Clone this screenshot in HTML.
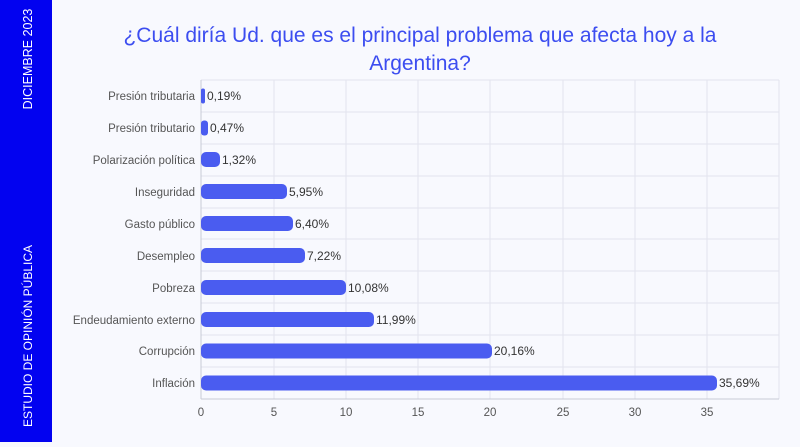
<!DOCTYPE html><html><head><meta charset="utf-8"><style>
body{margin:0;width:800px;height:442px;background:#f8f9fe;overflow:hidden;font-family:"Liberation Sans",sans-serif}
</style></head><body>
<svg width="800" height="442" xmlns="http://www.w3.org/2000/svg" font-family="Liberation Sans, sans-serif">
<rect width="800" height="442" fill="#f8f9fe"/>
<rect x="0" y="0" width="52" height="442" fill="#0202f0"/>
<text transform="translate(32,336) rotate(-90)" fill="#fff" font-size="12" text-anchor="middle">ESTUDIO DE OPINIÓN PÚBLICA</text>
<text transform="translate(32,59) rotate(-90)" fill="#fff" font-size="12.5" text-anchor="middle">DICIEMBRE 2023</text>
<text x="420" y="42" fill="#3c4df0" font-size="21" text-anchor="middle">¿Cuál diría Ud. que es el principal problema que afecta hoy a la</text>
<text x="420" y="70" fill="#3c4df0" font-size="21" text-anchor="middle">Argentina?</text>
<g stroke="#e2e4ee" stroke-width="1">
<line x1="274" y1="80" x2="274" y2="399"/><line x1="346" y1="80" x2="346" y2="399"/><line x1="418" y1="80" x2="418" y2="399"/><line x1="490" y1="80" x2="490" y2="399"/><line x1="563" y1="80" x2="563" y2="399"/><line x1="635" y1="80" x2="635" y2="399"/><line x1="707" y1="80" x2="707" y2="399"/><line x1="779" y1="80" x2="779" y2="399"/>
<line x1="201" y1="80" x2="779" y2="80"/><line x1="201" y1="112" x2="779" y2="112"/><line x1="201" y1="144" x2="779" y2="144"/><line x1="201" y1="176" x2="779" y2="176"/><line x1="201" y1="208" x2="779" y2="208"/><line x1="201" y1="239" x2="779" y2="239"/><line x1="201" y1="271" x2="779" y2="271"/><line x1="201" y1="303" x2="779" y2="303"/><line x1="201" y1="335" x2="779" y2="335"/><line x1="201" y1="367" x2="779" y2="367"/>
</g>
<line x1="201" y1="80" x2="201" y2="399" stroke="#c8cad6"/>
<line x1="201" y1="399" x2="779" y2="399" stroke="#c8cad6"/>
<g fill="#4a5cf0">
<rect x="201" y="88.5" width="4" height="15" rx="2"/>
<rect x="201" y="120.5" width="7" height="15" rx="3"/>
<rect x="201" y="152" width="19" height="15" rx="5"/>
<rect x="201" y="184" width="86" height="15" rx="5"/>
<rect x="201" y="216" width="92" height="15" rx="5"/>
<rect x="201" y="248" width="104" height="15" rx="5"/>
<rect x="201" y="280" width="145" height="15" rx="5"/>
<rect x="201" y="312" width="173" height="15" rx="5"/>
<rect x="201" y="343.5" width="291" height="15" rx="5"/>
<rect x="201" y="375.5" width="516" height="15" rx="5"/>
</g>
<g font-size="12" fill="#333" >
<text x="207" y="100">0,19%</text><text x="210" y="132">0,47%</text><text x="222" y="164">1,32%</text><text x="289" y="196">5,95%</text><text x="295" y="228">6,40%</text><text x="307" y="260">7,22%</text><text x="348" y="292">10,08%</text><text x="376" y="324">11,99%</text><text x="494" y="355">20,16%</text><text x="719" y="387">35,69%</text>
</g>
<g font-size="11.5" fill="#555" text-anchor="end">
<text x="195" y="100">Presión tributaria</text><text x="195" y="132">Presión tributario</text><text x="195" y="164">Polarización política</text><text x="195" y="196">Inseguridad</text><text x="195" y="228">Gasto público</text><text x="195" y="260">Desempleo</text><text x="195" y="292">Pobreza</text><text x="195" y="324">Endeudamiento externo</text><text x="195" y="355">Corrupción</text><text x="195" y="387">Inflación</text>
</g>
<g font-size="11.5" fill="#555" text-anchor="middle">
<text x="201" y="416">0</text><text x="274" y="416">5</text><text x="346" y="416">10</text><text x="418" y="416">15</text><text x="490" y="416">20</text><text x="563" y="416">25</text><text x="635" y="416">30</text><text x="707" y="416">35</text>
</g>
</svg>
</body></html>
